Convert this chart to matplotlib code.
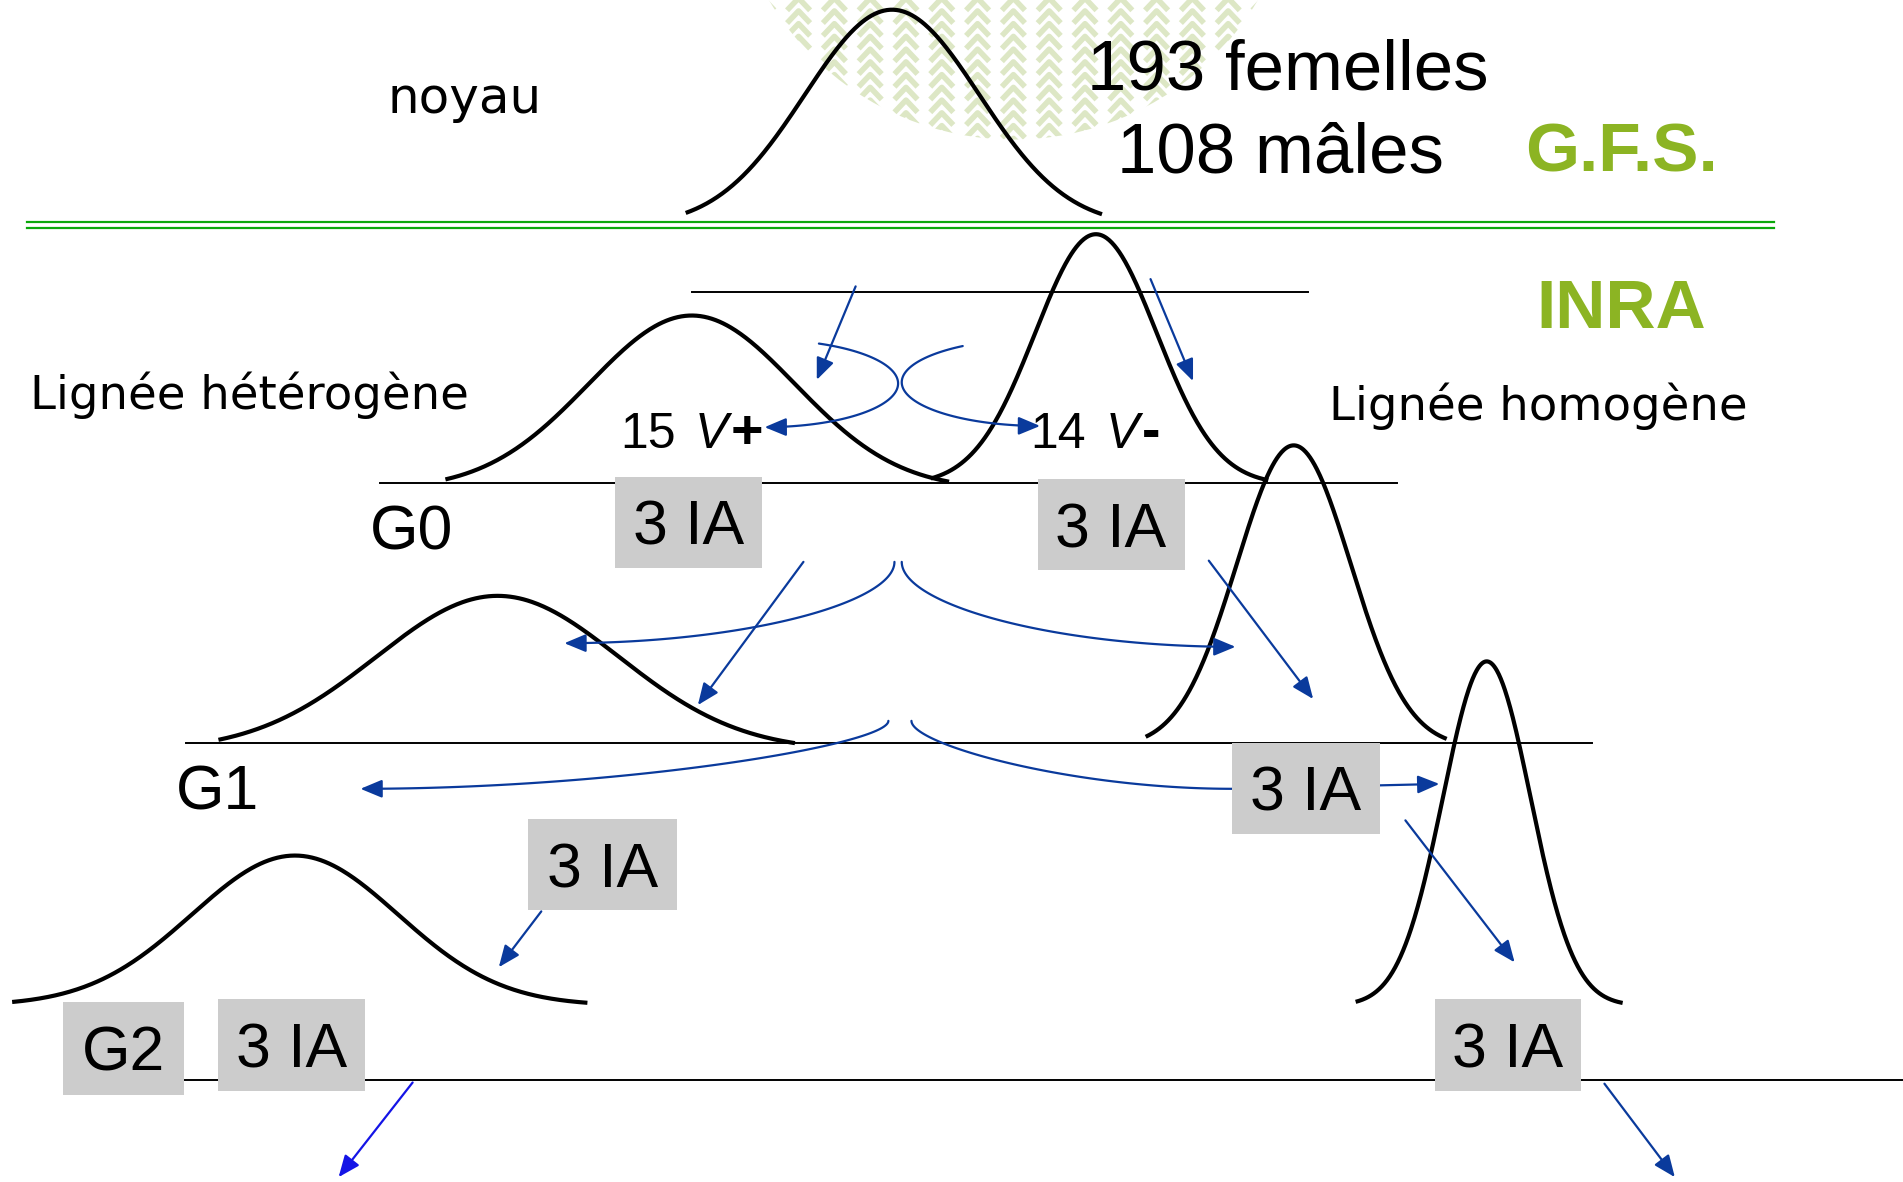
import numpy as np
import matplotlib
matplotlib.use('Agg')
import matplotlib.pyplot as plt
from matplotlib.patches import Rectangle, Circle, FancyArrowPatch
from matplotlib.collections import LineCollection
from matplotlib.path import Path
from matplotlib import font_manager

# drawing units = reference picture scaled to 1568 x 974, y pointing down
W, H = 1568, 974

# bell curves: centre, top, spread, ends and level of the tails
curve_cx = [735, 570, 903, 410, 1066, 243, 1225]
curve_peak = [8, 260, 193, 491, 367, 705, 545]
curve_sigma = [72, 85, 50, 100, 47, 85, 36]
curve_left = [565, 367, 767, 180, 944, 10, 1117]
curve_right = [908, 782, 1045, 655, 1192, 484, 1337]
curve_foot = [176, 396, 395, 611, 608, 826, 826]

# generation lines
hline_y = [241, 398, 612, 890]
hline_x0 = [570, 313, 153, 152]
hline_x1 = [1078, 1151, 1312, 1568]

# grey boxes
box_x0 = [507, 855, 1015, 435, 52, 180, 1182]
box_y0 = [393, 395, 612, 675, 826, 823, 823]
box_x1 = [628, 976, 1137, 558, 152, 301, 1303]
box_y1 = [468, 470, 687, 750, 902, 899, 899]
box_text = ['3 IA', '3 IA', '3 IA', '3 IA', 'G2', '3 IA', '3 IA']

# straight blue arrows
arr_x0 = [705, 948, 662, 996, 446, 1158, 340, 1322]
arr_y0 = [236, 230, 463, 462, 751, 676, 892, 893]
arr_x1 = [673, 983, 575, 1082, 411, 1248, 279, 1380]
arr_y1 = [313, 314, 581, 576, 797, 793, 970, 970]

# crossing arrows at G0 (elliptic arcs): centre, radii, start/end angle
arc_cx = [630, 857]
arc_cy = [316, 315]
arc_rx = [110, 114]
arc_ry = [36, 36]
arc_t0 = [-66, -124]
arc_t1 = [90, -270]

# sweeping arrows between generations: start, end
sweep_x0 = [737, 743, 732, 751]
sweep_y0 = [463, 463, 594, 594]
sweep_x1 = [465, 1018, 297, 1015]
sweep_y1 = [530, 533, 650, 650]

BLUE = '#0a3a9c'
GREEN_TXT = '#8cb423'
GREY = '#cccccc'

names = {f.name for f in font_manager.fontManager.ttflist}
NARROW = 'Liberation Sans Narrow' if 'Liberation Sans Narrow' in names else 'Liberation Sans'
ARIAL = 'Liberation Sans'
VERD = 'DejaVu Sans'

fig = plt.figure(figsize=(19.03, 11.82), dpi=100)
ax = fig.add_axes([0, 0, 1, 1])
ax.set_xlim(0, W)
ax.set_ylim(H, 0)
ax.axis('off')


def cap(size):
    # cap height of an Arial-like font, in drawing units
    return size * 100 / 72 * 0.716 / (1903 / W)


# watermark
segs = []
for cx in np.arange(835 - 9 * 29.5, 835 + 9.5 * 29.5, 29.5):
    for cy in np.arange(-12, 130, 10.5):
        segs.append([(cx - 9.5, cy + 10), (cx, cy), (cx + 9.5, cy + 10)])
lc = LineCollection(segs, colors='#dde7c5', linewidths=4.0, zorder=0)
ax.add_collection(lc)
lc.set_clip_path(Circle((835, -119), 234, transform=ax.transData))

# green double line
ax.plot([22, 1462], [183, 183], color='#0aa80a', lw=1.6, zorder=1)
ax.plot([22, 1462], [188, 188], color='#0aa80a', lw=1.6, zorder=1)

for i in range(len(hline_y)):
    ax.plot([hline_x0[i], hline_x1[i]], [hline_y[i], hline_y[i]], color='black', lw=1.4, zorder=1)

for i in range(len(curve_cx)):
    x = np.linspace(curve_left[i], curve_right[i], 400)
    s2 = 2 * curve_sigma[i] ** 2
    edge = np.mean(np.exp(-(np.array([curve_left[i], curve_right[i]]) - curve_cx[i]) ** 2 / s2))
    amp = (curve_foot[i] - curve_peak[i]) / (1 - edge)
    y = curve_peak[i] + amp * (1 - np.exp(-(x - curve_cx[i]) ** 2 / s2))
    ax.plot(x, y, color='black', lw=3.0, zorder=2, solid_capstyle='butt')


def arrow(verts, color=BLUE):
    p = FancyArrowPatch(path=Path(verts), arrowstyle='-|>,head_length=1.2,head_width=0.5',
                        mutation_scale=11, color=color, lw=1.6, zorder=3)
    ax.add_patch(p)


for i in range(len(arr_x0)):
    c = '#1414e6' if i == 6 else BLUE
    arrow([(arr_x0[i], arr_y0[i]), (arr_x1[i], arr_y1[i])], c)

for i in range(len(arc_cx)):
    t = np.radians(np.linspace(arc_t0[i], arc_t1[i], 80))
    arrow(np.column_stack([arc_cx[i] + arc_rx[i] * np.cos(t), arc_cy[i] + arc_ry[i] * np.sin(t)]))

for i in range(len(sweep_x0)):
    x0, y0, x1, y1 = sweep_x0[i], sweep_y0[i], sweep_x1[i], sweep_y1[i]
    k, m = (0.5, 0.55) if i < 2 else (0.35, 0.5)
    tt = np.linspace(0, 1, 80)[:, None]
    P = np.array([[x0, y0], [x0, y0 + k * (y1 - y0)], [x1 - m * (x1 - x0), y1], [x1, y1]])
    pts = ((1 - tt) ** 3 * P[0] + 3 * (1 - tt) ** 2 * tt * P[1]
           + 3 * (1 - tt) * tt ** 2 * P[2] + tt ** 3 * P[3])
    if i == 3:
        pts = np.vstack([pts, [[1186, 646]]])
    arrow(pts)

# sizes: the original face is condensed, so a regular face is kept a bit smaller
BOX_FS = 51 if NARROW != ARIAL else 45
BIG_FS = 56 if NARROW != ARIAL else 51
G_FS = 49 if NARROW != ARIAL else 45
V_FS = 40 if NARROW != ARIAL else 36

# grey boxes
for i in range(len(box_x0)):
    ax.add_patch(Rectangle((box_x0[i], box_y0[i]), box_x1[i] - box_x0[i], box_y1[i] - box_y0[i],
                           facecolor=GREY, edgecolor='none', zorder=4))
    yc = (box_y0[i] + box_y1[i]) / 2
    ax.text((box_x0[i] + box_x1[i]) / 2, yc + cap(BOX_FS) / 2, box_text[i], fontsize=BOX_FS,
            family=NARROW, ha='center', va='baseline', zorder=5)

# texts
ax.text(383, 93, 'noyau', fontsize=36, family=VERD, ha='center', va='baseline')
ax.text(1061, 74, '193 femelles', fontsize=BIG_FS, family=NARROW, ha='center', va='baseline')
ax.text(1055, 142, '108 mâles', fontsize=BIG_FS, family=NARROW, ha='center', va='baseline')
ax.text(1336, 141, 'G.F.S.', fontsize=50, family=ARIAL, weight='bold', color=GREEN_TXT,
        ha='center', va='baseline')
ax.text(1336, 270, 'INRA', fontsize=50, family=ARIAL, weight='bold', color=GREEN_TXT,
        ha='center', va='baseline')
ax.text(25, 337, 'Lignée hétérogène', fontsize=33.5, family=VERD, ha='left', va='baseline')
ax.text(1095, 346, 'Lignée homogène', fontsize=33.5, family=VERD, ha='left', va='baseline')
ax.text(305, 453, 'G0', fontsize=G_FS, family=NARROW, ha='left', va='baseline')
ax.text(145, 667, 'G1', fontsize=G_FS, family=NARROW, ha='left', va='baseline')

ax.text(511, 369, '15', fontsize=V_FS, family=NARROW, ha='left', va='baseline')
ax.text(572, 369, 'V', fontsize=V_FS, family=NARROW, style='italic', ha='left', va='baseline')
ax.text(602, 369, '+', fontsize=40, family=ARIAL, weight='bold', ha='left', va='baseline')
ax.text(849, 369, '14', fontsize=V_FS, family=NARROW, ha='left', va='baseline')
ax.text(911, 369, 'V', fontsize=V_FS, family=NARROW, style='italic', ha='left', va='baseline')
ax.text(941, 369, '-', fontsize=40, family=ARIAL, weight='bold', ha='left', va='baseline')

fig.savefig('out.png', dpi=100)
